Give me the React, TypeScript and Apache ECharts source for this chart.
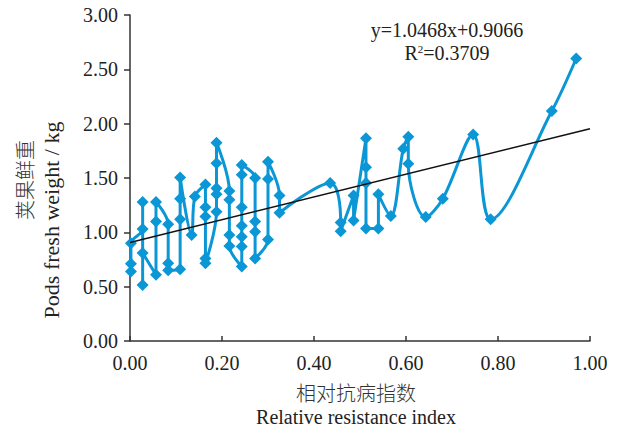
import React, { useEffect, useRef } from "react";
import * as echarts from "echarts";

// Relative resistance index (x) and pod fresh weight (y), in drawing order
const resistance = [
  0.002, 0.002, 0.002,
  0.0275, 0.0275, 0.0275, 0.0275,
  0.0565, 0.0565, 0.0565,
  0.083, 0.083, 0.083,
  0.109, 0.109, 0.109, 0.109,
  0.134, 0.141,
  0.164, 0.164, 0.164, 0.164, 0.164,
  0.188, 0.188, 0.188, 0.188, 0.188,
  0.216, 0.216, 0.216, 0.216,
  0.243, 0.243, 0.243, 0.243, 0.243, 0.243, 0.243,
  0.272, 0.272, 0.272, 0.272,
  0.3, 0.3, 0.3,
  0.325, 0.325,
  0.435,
  0.458, 0.458,
  0.486, 0.486,
  0.513, 0.513, 0.513, 0.513,
  0.54, 0.54,
  0.567, 0.594, 0.605, 0.605,
  0.643, 0.68, 0.746, 0.784, 0.917, 0.97,
];
const weight = [
  0.64, 0.71, 0.9,
  1.03, 1.28, 0.515, 0.81,
  0.61, 1.1, 1.28,
  1.075, 0.715, 0.65,
  0.66, 1.12, 1.31, 1.505,
  0.975, 1.33,
  1.44, 1.23, 1.145, 0.76, 0.715,
  1.19, 1.35, 1.405, 1.635, 1.825,
  1.38, 1.3, 0.975, 0.875,
  0.685, 0.87, 0.96, 1.06, 1.23, 1.53, 1.62,
  1.5, 1.1, 1.005, 0.76,
  0.935, 1.49, 1.65,
  1.34, 1.18,
  1.455,
  1.09, 1.01,
  1.34, 1.11,
  1.865, 1.6, 1.455, 1.035,
  1.035, 1.35,
  1.15, 1.77, 1.88, 1.63,
  1.14, 1.31, 1.9, 1.12, 2.116, 2.6,
];

// Linear fit
const slope = 1.0468;
const intercept = 0.9066;
const fitRange = [0, 1];
const equationText = "y=1.0468x+0.9066";
const r2Value = "0.3709";

const yTicks = [0, 3, 0.5];
const xTicks = [0, 1, 0.2];

const SERIF = "'Liberation Serif', 'Times New Roman', 'Noto Sans CJK SC', serif";

export default function App() {
  const ref = useRef<HTMLDivElement>(null);
  useEffect(() => {
    document.body.style.margin = "0";
    if (!ref.current) return;
    const chart = echarts.init(ref.current, undefined, { renderer: "svg" });
    const points = resistance.map((x, i) => [x, weight[i]]);
    const fit = fitRange.map((x) => [x, slope * x + intercept]);
    chart.setOption({
      animation: false,
      backgroundColor: "#fff",
      grid: { left: 130, right: 29, top: 15, bottom: 88, containLabel: false },
      xAxis: {
        type: "value",
        min: xTicks[0],
        max: xTicks[1],
        interval: xTicks[2],
        axisLine: { show: true, lineStyle: { color: "#333", width: 1.5 } },
        axisTick: { show: true, inside: true, length: 5, lineStyle: { color: "#333", width: 1.5 } },
        splitLine: { show: false },
        axisLabel: {
          margin: 12,
          fontFamily: SERIF,
          fontSize: 20,
          color: "#222",
          formatter: (v: number) => v.toFixed(2),
        },
      },
      yAxis: {
        type: "value",
        min: yTicks[0],
        max: yTicks[1],
        interval: yTicks[2],
        axisLine: { show: true, lineStyle: { color: "#333", width: 1.5 } },
        axisTick: { show: true, inside: false, length: 6, lineStyle: { color: "#333", width: 1.5 } },
        splitLine: { show: false },
        axisLabel: {
          margin: 12,
          fontFamily: SERIF,
          fontSize: 20,
          color: "#222",
          formatter: (v: number) => v.toFixed(2),
        },
      },
      series: [
        {
          type: "line",
          data: points,
          smooth: 0.35,
          symbol: "diamond",
          symbolSize: 12,
          itemStyle: { color: "#0b96d6" },
          lineStyle: { color: "#0b96d6", width: 3 },
          z: 2,
        },
        {
          type: "line",
          data: fit,
          symbol: "none",
          lineStyle: { color: "#111", width: 1.5 },
          z: 3,
        },
      ],
      graphic: [
        {
          type: "text",
          x: 447,
          y: 30,
          style: {
            text: equationText,
            font: `20px ${SERIF}`,
            fill: "#222",
            textAlign: "center",
            textVerticalAlign: "middle",
          },
        },
        {
          type: "text",
          x: 447,
          y: 53,
          style: {
            text: "{a|R}{s|2}{a|=" + r2Value + "}",
            fill: "#222",
            textAlign: "center",
            textVerticalAlign: "middle",
            rich: {
              a: { fontFamily: SERIF, fontSize: 20, fill: "#222" },
              s: { fontFamily: SERIF, fontSize: 11, fill: "#222", verticalAlign: "top", padding: [0, 0, 8, 0] },
            },
          },
        },
        {
          type: "text",
          x: 356,
          y: 394,
          style: {
            text: "相对抗病指数",
            font: `normal 300 20px ${SERIF}`,
            fill: "#333",
            textAlign: "center",
            textVerticalAlign: "middle",
          },
        },
        {
          type: "text",
          x: 356,
          y: 417,
          style: {
            text: "Relative resistance index",
            font: `20px ${SERIF}`,
            fill: "#222",
            textAlign: "center",
            textVerticalAlign: "middle",
          },
        },
        {
          type: "text",
          x: 26,
          y: 180,
          rotation: Math.PI / 2,
          style: {
            text: "荚果鲜重",
            font: `normal 300 20px ${SERIF}`,
            fill: "#333",
            textAlign: "center",
            textVerticalAlign: "middle",
          },
        },
        {
          type: "text",
          x: 51,
          y: 220,
          rotation: Math.PI / 2,
          style: {
            text: "Pods fresh weight / kg",
            font: `22px ${SERIF}`,
            fill: "#222",
            textAlign: "center",
            textVerticalAlign: "middle",
          },
        },
      ],
    });
    return () => chart.dispose();
  }, []);
  return <div ref={ref} style={{ width: 619, height: 429 }} />;
}
